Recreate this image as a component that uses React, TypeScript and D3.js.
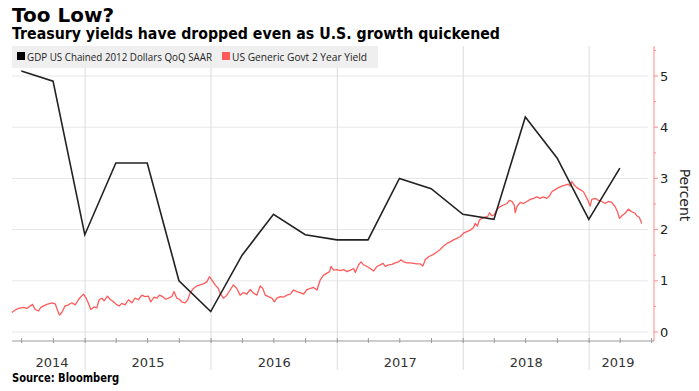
import React from 'react';
import * as d3 from 'd3';

// GDP QoQ SAAR, plotted at quarter end
const gdpDates = [
  '2014-06-30', '2014-09-30', '2014-12-31', '2015-03-31', '2015-06-30',
  '2015-09-30', '2015-12-31', '2016-03-31', '2016-06-30', '2016-09-30',
  '2016-12-31', '2017-03-31', '2017-06-30', '2017-09-30', '2017-12-31',
  '2018-03-31', '2018-06-30', '2018-09-30', '2018-12-31', '2019-03-31',
];
const gdpValues = [5.1, 4.9, 1.9, 3.3, 3.3, 1.0, 0.4, 1.5, 2.3, 1.9, 1.8, 1.8, 3.0, 2.8, 2.3, 2.2, 4.2, 3.4, 2.2, 3.2];

// 2Y yield, [decimal year, percent]
const yield2014 = [
  [2014.418, 0.38], [2014.444, 0.43], [2014.471, 0.46], [2014.51, 0.48], [2014.537, 0.46],
  [2014.582, 0.54], [2014.603, 0.44], [2014.629, 0.41], [2014.648, 0.48], [2014.696, 0.54],
  [2014.736, 0.57], [2014.762, 0.55], [2014.78, 0.43], [2014.796, 0.33], [2014.815, 0.38],
  [2014.841, 0.51], [2014.867, 0.53], [2014.894, 0.57], [2014.921, 0.53], [2014.947, 0.63],
  [2014.966, 0.69], [2014.987, 0.74],
];
const yield2015 = [
  [2015.008, 0.66], [2015.026, 0.56], [2015.045, 0.44], [2015.071, 0.49], [2015.093, 0.47],
  [2015.111, 0.63], [2015.133, 0.66], [2015.151, 0.61], [2015.177, 0.7], [2015.198, 0.64],
  [2015.225, 0.59], [2015.252, 0.53], [2015.272, 0.51], [2015.291, 0.56], [2015.317, 0.53],
  [2015.344, 0.63], [2015.371, 0.57], [2015.397, 0.66], [2015.423, 0.63], [2015.45, 0.72],
  [2015.476, 0.69], [2015.502, 0.7], [2015.521, 0.59], [2015.548, 0.68], [2015.569, 0.66],
  [2015.59, 0.72], [2015.617, 0.69], [2015.64, 0.64], [2015.661, 0.66], [2015.688, 0.69],
  [2015.706, 0.79], [2015.728, 0.66], [2015.748, 0.64], [2015.767, 0.59], [2015.794, 0.57],
  [2015.815, 0.63], [2015.833, 0.76], [2015.86, 0.85], [2015.887, 0.9], [2015.913, 0.92],
  [2015.939, 0.94], [2015.966, 0.98], [2015.987, 1.08],
];
const yield2016 = [
  [2016.006, 1.02], [2016.032, 0.92], [2016.058, 0.85], [2016.071, 0.76], [2016.098, 0.66],
  [2016.125, 0.72], [2016.151, 0.82], [2016.177, 0.92], [2016.204, 0.85], [2016.23, 0.72],
  [2016.256, 0.77], [2016.283, 0.74], [2016.31, 0.83], [2016.336, 0.76], [2016.363, 0.72],
  [2016.389, 0.9], [2016.41, 0.85], [2016.429, 0.72], [2016.455, 0.69], [2016.482, 0.66],
  [2016.502, 0.59], [2016.521, 0.66], [2016.548, 0.69], [2016.574, 0.68], [2016.601, 0.72],
  [2016.627, 0.74], [2016.653, 0.82], [2016.68, 0.79], [2016.706, 0.77], [2016.733, 0.74],
  [2016.76, 0.83], [2016.786, 0.85], [2016.812, 0.87], [2016.839, 0.82], [2016.865, 1.02],
  [2016.891, 1.11], [2016.918, 1.15], [2016.939, 1.18], [2016.95, 1.28], [2016.971, 1.21],
  [2016.998, 1.22],
];
const yield2017 = [
  [2017.024, 1.2], [2017.05, 1.22], [2017.077, 1.18], [2017.103, 1.21], [2017.13, 1.24],
  [2017.143, 1.16], [2017.169, 1.31], [2017.188, 1.37], [2017.209, 1.31], [2017.236, 1.28],
  [2017.262, 1.24], [2017.288, 1.19], [2017.315, 1.28], [2017.341, 1.31], [2017.363, 1.34],
  [2017.381, 1.28], [2017.407, 1.31], [2017.434, 1.32], [2017.46, 1.35], [2017.487, 1.37],
  [2017.506, 1.41], [2017.526, 1.37], [2017.553, 1.35], [2017.579, 1.35], [2017.606, 1.34],
  [2017.633, 1.33], [2017.659, 1.33], [2017.68, 1.29], [2017.698, 1.41], [2017.725, 1.47],
  [2017.752, 1.5], [2017.778, 1.54], [2017.812, 1.6], [2017.844, 1.68], [2017.871, 1.73],
  [2017.897, 1.76], [2017.923, 1.8], [2017.95, 1.83], [2017.976, 1.86],
];
const yield2018 = [
  [2018.002, 1.93], [2018.029, 1.96], [2018.056, 1.99], [2018.082, 2.04], [2018.095, 2.12],
  [2018.113, 2.07], [2018.129, 2.19], [2018.148, 2.22], [2018.175, 2.25], [2018.193, 2.25],
  [2018.209, 2.33], [2018.228, 2.27], [2018.246, 2.29], [2018.267, 2.39], [2018.294, 2.45],
  [2018.32, 2.48], [2018.347, 2.51], [2018.367, 2.57], [2018.387, 2.55], [2018.405, 2.48],
  [2018.413, 2.33], [2018.426, 2.45], [2018.452, 2.53], [2018.479, 2.51], [2018.506, 2.55],
  [2018.532, 2.59], [2018.558, 2.61], [2018.585, 2.64], [2018.611, 2.61], [2018.637, 2.64],
  [2018.664, 2.61], [2018.685, 2.66], [2018.704, 2.74], [2018.73, 2.78], [2018.756, 2.82],
  [2018.783, 2.85], [2018.81, 2.87], [2018.836, 2.89], [2018.849, 2.85], [2018.863, 2.94],
  [2018.881, 2.87], [2018.902, 2.82], [2018.929, 2.78], [2018.955, 2.74], [2018.976, 2.64],
  [2018.994, 2.55],
];
const yield2019 = [
  [2019.008, 2.46], [2019.021, 2.59], [2019.048, 2.61], [2019.074, 2.57], [2019.101, 2.55],
  [2019.127, 2.51], [2019.153, 2.55], [2019.18, 2.53], [2019.206, 2.45], [2019.225, 2.35],
  [2019.241, 2.22], [2019.26, 2.27], [2019.286, 2.32], [2019.312, 2.4], [2019.337, 2.35],
  [2019.365, 2.32], [2019.378, 2.27], [2019.398, 2.24], [2019.418, 2.12],
];

const years = [2014, 2015, 2016, 2017, 2018, 2019];
const legendLabels = ['GDP US Chained 2012 Dollars QoQ SAAR', 'US Generic Govt 2 Year Yield'];

const W = 699;
const H = 391;
const RED = '#ff5b5b';
const AXIS_RED = '#ff8a8a';

const toDate = (t: number) => {
  const yr = Math.floor(t);
  const a = Date.UTC(yr, 0, 1);
  const b = Date.UTC(yr + 1, 0, 1);
  return new Date(a + (t - yr) * (b - a));
};

export default function App() {
  const x = d3.scaleUtc()
    .domain([new Date(Date.UTC(2014, 5, 3)), new Date(Date.UTC(2019, 6, 8))])
    .range([12, 654]);
  const y = d3.scaleLinear().domain([0, 5.6]).range([332, 45.3]);

  const yieldData = [...yield2014, ...yield2015, ...yield2016, ...yield2017, ...yield2018, ...yield2019]
    .map(([t, v]) => ({ date: toDate(t), value: v }));
  const gdpData = gdpDates.map((d, i) => ({ date: new Date(d + 'T00:00:00Z'), value: gdpValues[i] }));

  const line = d3.line<{ date: Date; value: number }>()
    .x(d => x(d.date))
    .y(d => y(d.value));

  const [x0, x1] = x.domain();
  const yearStarts = x.ticks(d3.utcYear.every(1)!);
  const quarterTicks = d3.utcMonth.every(3)!.range(x0, x1);
  const yTicks = y.ticks(6);
  const minorTicks = yTicks.map(t => t + 0.5).filter(t => t < 5.6);

  const axisX = x.range()[1];

  return (
    <svg width={W} height={H} style={{ position: 'absolute', left: 0, top: 0, background: '#fff' }}
      fontFamily="'DejaVu Sans', Verdana, sans-serif">
      {/* titles */}
      <text x={12} y={22} fontSize={20} fontWeight="bold" fill="#000" textLength={102} lengthAdjust="spacingAndGlyphs">Too Low?</text>
      <text x={12} y={39} fontSize={15} fontWeight="bold" fill="#000" textLength={488} lengthAdjust="spacingAndGlyphs">
        Treasury yields have dropped even as U.S. growth quickened
      </text>

      {/* horizontal grid */}
      {yTicks.map(t => (
        <line key={'hg' + t} x1={12} x2={648} y1={y(t)} y2={y(t)} stroke="#e6e6e6" strokeWidth={1} />
      ))}
      {/* year separators */}
      {yearStarts.map(d => (
        <line key={'vg' + d.getTime()} x1={x(d)} x2={x(d)} y1={46} y2={370} stroke="#dcdcdc" strokeWidth={1} />
      ))}

      {/* legend */}
      <rect x={12} y={46} width={366} height={22} fill="#ececec" opacity={0.85} />
      <rect x={17} y={52} width={8} height={8} fill="#000" />
      <text x={27} y={61} fontSize={11} fill="#222" fontFamily="'Open Sans', sans-serif" textLength={185} lengthAdjust="spacingAndGlyphs">{legendLabels[0]}</text>
      <rect x={222} y={52} width={8} height={8} fill={RED} />
      <text x={232} y={61} fontSize={11} fill="#222" fontFamily="'Open Sans', sans-serif" textLength={135} lengthAdjust="spacingAndGlyphs">{legendLabels[1]}</text>

      {/* x axis */}
      <line x1={12} x2={axisX} y1={341} y2={341} stroke="#9a9a9a" strokeWidth={1} />
      {quarterTicks.map(d => (
        <line key={'qt' + d.getTime()} x1={x(d)} x2={x(d)} y1={338} y2={343} stroke="#9a9a9a" strokeWidth={1} />
      ))}
      {years.map(yr => {
        const a = Math.max(19, x(new Date(Date.UTC(yr, 0, 1))));
        const b = Math.min(647, x(new Date(Date.UTC(yr + 1, 0, 1))));
        return (
          <text key={'yl' + yr} x={(a + b) / 2} y={367} fontSize={13} fill="#333" textAnchor="middle">{yr}</text>
        );
      })}

      {/* right axis */}
      <line x1={axisX} x2={axisX} y1={46} y2={341} stroke={AXIS_RED} strokeWidth={1} />
      {yTicks.map(t => (
        <g key={'yt' + t}>
          <line x1={axisX} x2={axisX + 4} y1={y(t)} y2={y(t)} stroke={AXIS_RED} />
          <text x={axisX + 6} y={y(t)} dy="0.35em" fontSize={13} fill="#222">{t}</text>
        </g>
      ))}
      {minorTicks.map(t => (
        <line key={'mt' + t} x1={axisX} x2={axisX + 2} y1={y(t)} y2={y(t)} stroke={AXIS_RED} />
      ))}
      <text transform={`translate(680,195) rotate(90)`} fontSize={14} fill="#222" textAnchor="middle">Percent</text>

      {/* series */}
      <path d={line(yieldData) || ''} fill="none" stroke={RED} strokeWidth={1.3} strokeLinejoin="round" />
      <path d={line(gdpData) || ''} fill="none" stroke="#222" strokeWidth={1.6} strokeLinejoin="miter" />

      {/* source */}
      <text x={12} y={382} fontSize={11.5} fontWeight="bold" fill="#000" textLength={107} lengthAdjust="spacingAndGlyphs">Source: Bloomberg</text>
    </svg>
  );
}
